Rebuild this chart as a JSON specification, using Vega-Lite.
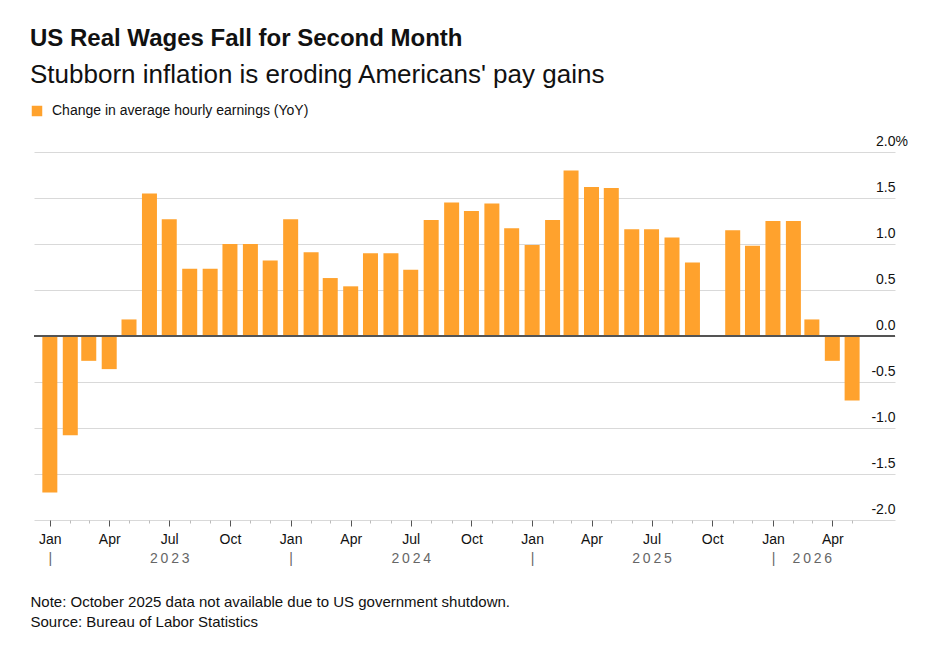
{
  "$schema": "https://vega.github.io/schema/vega-lite/v6.json",
  "width": 861,
  "height": 368,
  "autosize": {"type": "none"},
  "padding": {"left": 34, "top": 152, "right": 41, "bottom": 128},
  "background": "white",
  "config": {"font": "Liberation Sans", "view": {"stroke": null}},
  "title": {
    "text": "US Real Wages Fall for Second Month",
    "subtitle": "Stubborn inflation is eroding Americans' pay gains",
    "anchor": "start",
    "frame": "group",
    "dx": -4,
    "offset": 16,
    "font": "Liberation Sans",
    "fontSize": 24,
    "fontWeight": "bold",
    "color": "#111111",
    "subtitleFont": "Liberation Sans",
    "subtitleFontSize": 26,
    "subtitleColor": "#111111",
    "subtitlePadding": 11
  },
  "data": {
    "values": [
      {"date": "2023-01-01", "value": -1.70},
      {"date": "2023-02-01", "value": -1.08},
      {"date": "2023-03-01", "value": -0.27},
      {"date": "2023-04-01", "value": -0.36},
      {"date": "2023-05-01", "value": 0.18},
      {"date": "2023-06-01", "value": 1.55},
      {"date": "2023-07-01", "value": 1.27},
      {"date": "2023-08-01", "value": 0.73},
      {"date": "2023-09-01", "value": 0.73},
      {"date": "2023-10-01", "value": 1.00},
      {"date": "2023-11-01", "value": 1.00},
      {"date": "2023-12-01", "value": 0.82},
      {"date": "2024-01-01", "value": 1.27},
      {"date": "2024-02-01", "value": 0.91},
      {"date": "2024-03-01", "value": 0.63},
      {"date": "2024-04-01", "value": 0.54},
      {"date": "2024-05-01", "value": 0.90},
      {"date": "2024-06-01", "value": 0.90},
      {"date": "2024-07-01", "value": 0.72},
      {"date": "2024-08-01", "value": 1.26},
      {"date": "2024-09-01", "value": 1.45},
      {"date": "2024-10-01", "value": 1.36},
      {"date": "2024-11-01", "value": 1.44},
      {"date": "2024-12-01", "value": 1.17},
      {"date": "2025-01-01", "value": 0.99},
      {"date": "2025-02-01", "value": 1.26},
      {"date": "2025-03-01", "value": 1.80},
      {"date": "2025-04-01", "value": 1.62},
      {"date": "2025-05-01", "value": 1.61},
      {"date": "2025-06-01", "value": 1.16},
      {"date": "2025-07-01", "value": 1.16},
      {"date": "2025-08-01", "value": 1.07},
      {"date": "2025-09-01", "value": 0.80},
      {"date": "2025-11-01", "value": 1.15},
      {"date": "2025-12-01", "value": 0.98},
      {"date": "2026-01-01", "value": 1.25},
      {"date": "2026-02-01", "value": 1.25},
      {"date": "2026-03-01", "value": 0.18},
      {"date": "2026-04-01", "value": -0.27},
      {"date": "2026-05-01", "value": -0.70}
    ]
  },
  "layer": [
    {
      "mark": {"type": "bar", "size": 15},
      "encoding": {
        "x": {
          "field": "date",
          "type": "temporal",
          "scale": {"type": "utc", "padding": 0, "domain": [{"year": 2022, "month": 12, "date": 8, "utc": true}, {"year": 2026, "month": 7, "date": 5, "utc": true}]},
          "axis": {
            "orient": "bottom",
            "title": null,
            "tickCount": {"interval": "month", "step": 1},
            "labelExpr": "datum.value > utc(2026, 4, 15) ? '' : (utcmonth(datum.value) % 3 == 0 ? utcFormat(datum.value, '%b') : '')",
            "labelOverlap": false,
            "labelFlush": false,
            "domain": false,
            "grid": false,
            "tickSize": {"condition": {"test": "utcmonth(datum.value) % 3 == 0", "value": 6}, "value": 3},
            "tickColor": {"condition": {"test": "utcmonth(datum.value) % 3 == 0", "value": "#555555"}, "value": "#bbbbbb"},
            "tickOpacity": {"condition": {"test": "datum.value > utc(2026, 4, 15)", "value": 0}, "value": 1},
            "tickWidth": 1,
            "labelPadding": 6,
            "labelFontSize": 14,
            "labelColor": "#111111"
          }
        },
        "y": {
          "field": "value",
          "type": "quantitative",
          "scale": {"domain": [-2, 2], "nice": false},
          "axis": {
            "orient": "right",
            "title": null,
            "values": [-2, -1.5, -1, -0.5, 0, 0.5, 1, 1.5, 2],
            "grid": true,
            "gridColor": "#d9d9d9",
            "gridWidth": 1,
            "domain": false,
            "ticks": false,
            "labelAlign": "right",
            "labelBaseline": "alphabetic",
            "labelOffset": -7,
            "labelPadding": {"condition": {"test": "datum.value == 2", "value": 12.5}, "value": 0},
            "labelExpr": "datum.value == 2 ? '2.0%' : (datum.value < 0 ? '-' : '') + format(abs(datum.value), '.1f')",
            "labelFontSize": 14,
            "labelColor": "#111111"
          }
        },
        "color": {
          "datum": "Change in average hourly earnings (YoY)",
          "scale": {"range": ["#ffa22d"]},
          "legend": {
            "orient": "none",
            "legendX": -4,
            "legendY": -48,
            "title": null,
            "symbolType": "square",
            "symbolSize": 110,
            "symbolStrokeWidth": 0,
            "labelFontSize": 14,
            "labelColor": "#111111",
            "labelOffset": 8,
            "labelLimit": 0,
            "padding": 0
          }
        }
      }
    },
    {
      "mark": {"type": "rule", "color": "#555555", "strokeWidth": 1.5},
      "encoding": {
        "x": {
          "datum": {"year": 2022, "month": 12, "date": 8, "utc": true},
          "type": "temporal",
          "scale": {"type": "utc", "padding": 0},
          "axis": {
            "orient": "bottom",
            "values": [
              {"year": 2023, "month": 1, "date": 1, "utc": true},
              {"year": 2023, "month": 7, "date": 1, "utc": true},
              {"year": 2024, "month": 1, "date": 1, "utc": true},
              {"year": 2024, "month": 7, "date": 1, "utc": true},
              {"year": 2025, "month": 1, "date": 1, "utc": true},
              {"year": 2025, "month": 7, "date": 1, "utc": true},
              {"year": 2026, "month": 1, "date": 1, "utc": true},
              {"year": 2026, "month": 3, "date": 1, "utc": true}
            ],
            "labelExpr": "utcmonth(datum.value) == 0 ? '|' : join(split(utcFormat(datum.value, '%Y'), ''), '\u2009')",
            "ticks": false,
            "domain": false,
            "grid": false,
            "labelPadding": 31,
            "labelFontSize": 14,
            "labelColor": "#666666",
            "labelOverlap": false,
            "labelFlush": false,
            "title": ["Note: October 2025 data not available due to US government shutdown.", "Source: Bureau of Labor Statistics"],
            "titleAnchor": "start",
            "titleAlign": "left",
            "titleBaseline": "top",
            "titleX": -4,
            "titleY": 74,
            "titleFontSize": 15,
            "titleFontWeight": "normal",
            "titleLineHeight": 20,
            "titleColor": "#111111"
          }
        },
        "x2": {"datum": {"year": 2026, "month": 7, "date": 5, "utc": true}},
        "y": {"datum": 0, "type": "quantitative"}
      }
    }
  ],
  "resolve": {"axis": {"x": "independent"}}
}
